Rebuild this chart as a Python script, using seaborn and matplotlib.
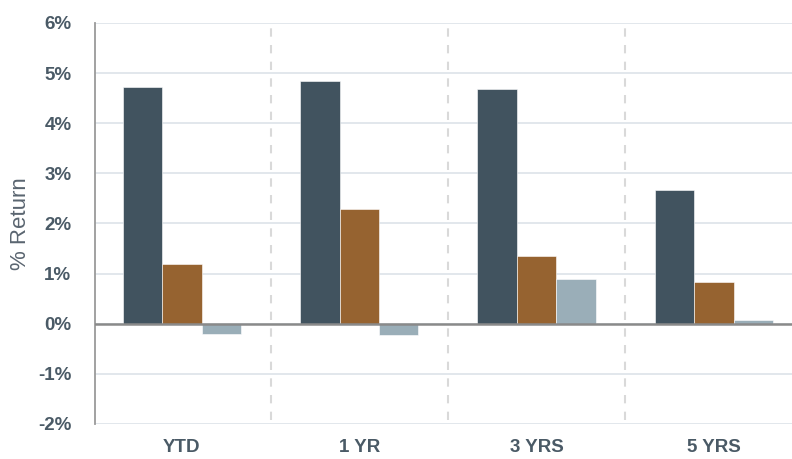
import matplotlib.pyplot as plt
import pandas as pd
import seaborn as sns

periods = ['YTD', '1 YR', '3 YRS', '5 YRS']
series_names = ['Fund', 'Benchmark', 'Category']
fund = [4.72, 4.84, 4.68, 2.66]
benchmark = [1.20, 2.28, 1.36, 0.84]
category = [-0.20, -0.23, 0.90, 0.08]
colors = ['#41535f', '#966330', '#9aaeb8']
y_ticks = [-2, -1, 0, 1, 2, 3, 4, 5, 6]

df = pd.DataFrame({'period': periods * 3,
                   'series': [s for s in series_names for _ in periods],
                   'value': fund + benchmark + category})

sns.set_style('white')
plt.rcParams['font.family'] = ['Liberation Sans', 'DejaVu Sans']

fig = plt.figure(figsize=(7.92, 4.59), dpi=100)
ax = fig.add_axes([0.12, 0.0763, 0.88, 0.8737])

sns.barplot(data=df, x='period', y='value', hue='series', palette=colors,
            width=0.667, ax=ax, legend=False, saturation=1,
            edgecolor='white', linewidth=0.4)

ax.set_ylim(-2, 6)
ax.set_xlim(-0.49, 3.44)
ax.set_yticks(y_ticks)
ax.set_yticklabels([f'{t}%' for t in y_ticks])
ax.grid(axis='y', color='#dfe5ea', linewidth=1.3)
ax.set_axisbelow(True)
ax.axhline(0, color='#8a8a8a', linewidth=1.8, zorder=3)

# dashed separators between the groups
for i in range(len(periods) - 1):
    ax.axvline(i + 0.5, ymin=0.01, ymax=1, color='#d9d9d9',
               linestyle=(0, (4, 4)), linewidth=1.5, zorder=0)

for side in ['top', 'right', 'bottom']:
    ax.spines[side].set_visible(False)
ax.spines['left'].set_color('#9a9a9a')
ax.spines['left'].set_linewidth(1.3)

ax.tick_params(axis='both', length=0, labelsize=13.5, labelcolor='#4a5a66')
ax.tick_params(axis='y', pad=17)
ax.tick_params(axis='x', pad=11)
for lbl in ax.get_xticklabels() + ax.get_yticklabels():
    lbl.set_fontweight('bold')

ax.set_xlabel('')
ax.set_ylabel('% Return', fontsize=16, color='#5a6570')
ax.yaxis.set_label_coords(-0.092, 0.5)

fig.savefig('out.png', dpi=100)
